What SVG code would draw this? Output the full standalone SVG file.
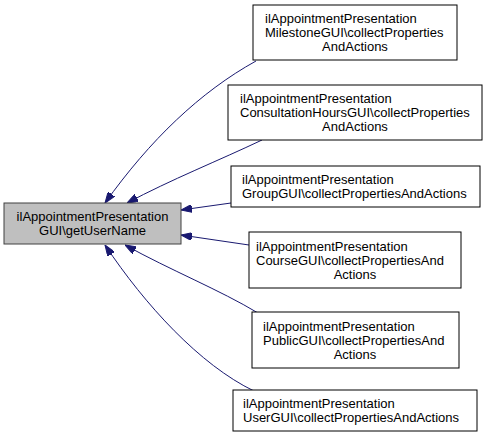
<svg xmlns="http://www.w3.org/2000/svg" width="488" height="439" viewBox="0 0 488 439">
<style>
.n rect{fill:#ffffff;stroke:#000000;stroke-width:1}
#main rect{fill:#bfbfbf;stroke:#404040}
text{font-family:"Liberation Sans",Arial,sans-serif;font-size:13px;fill:#000000}
.c{text-anchor:middle}
.e path{fill:none;stroke:#191970;stroke-width:1;marker-end:url(#ah)}
</style>
<defs>
<marker id="ah" markerUnits="userSpaceOnUse" markerWidth="11" markerHeight="8" refX="11" refY="4" orient="auto">
<path d="M0,0 L11,4 L0,8 z" fill="#191970" stroke="#191970" stroke-width="1"/>
</marker>
</defs>
<rect width="488" height="439" fill="#ffffff"/>
<g class="e" id="edges">
<path d="M256,61 C200,92 150,140 105,203"/>
<path d="M262,140 C220,160 170,180 127,203"/>
<path d="M231,203 L181,210"/>
<path d="M249,245 L181,235"/>
<path d="M258,313 C220,290 170,270 125,245"/>
<path d="M254,391 C200,365 145,305 105,245"/>
</g>
<g class="n" id="main">
<rect x="4" y="203" width="177" height="41"/>
<text class="c" x="92.5" y="221">ilAppointmentPresentation</text>
<text class="c" x="92.5" y="235">GUI\getUserName</text>
</g>
<g class="n" id="milestone">
<rect x="253" y="5" width="204" height="55"/>
<text x="265" y="23">ilAppointmentPresentation</text>
<text x="265" y="37">MilestoneGUI\collectProperties</text>
<text class="c" x="355" y="51">AndActions</text>
</g>
<g class="n" id="consultation">
<rect x="228" y="85" width="254" height="55"/>
<text x="240" y="103">ilAppointmentPresentation</text>
<text x="240" y="117">ConsultationHoursGUI\collectProperties</text>
<text class="c" x="355" y="131">AndActions</text>
</g>
<g class="n" id="group">
<rect x="231" y="166" width="249" height="41"/>
<text x="242" y="184">ilAppointmentPresentation</text>
<text x="242" y="198">GroupGUI\collectPropertiesAndActions</text>
</g>
<g class="n" id="course">
<rect x="249" y="232" width="212" height="56"/>
<text x="256" y="251">ilAppointmentPresentation</text>
<text x="256" y="265">CourseGUI\collectPropertiesAnd</text>
<text class="c" x="355" y="279">Actions</text>
</g>
<g class="n" id="public">
<rect x="252" y="312" width="207" height="56"/>
<text x="263" y="331">ilAppointmentPresentation</text>
<text x="263" y="345">PublicGUI\collectPropertiesAnd</text>
<text class="c" x="355" y="359">Actions</text>
</g>
<g class="n" id="user">
<rect x="233" y="390" width="244" height="41"/>
<text x="243" y="408">ilAppointmentPresentation</text>
<text x="243" y="422">UserGUI\collectPropertiesAndActions</text>
</g>
</svg>
